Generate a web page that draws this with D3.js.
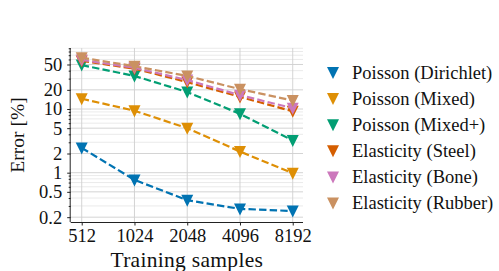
<!DOCTYPE html>
<html><head><meta charset="utf-8">
<script src="https://cdn.jsdelivr.net/npm/d3@7"></script>
<style>body{margin:0;background:#fff}svg{display:block}</style>
</head><body>
<script>
const samples = [512, 1024, 2048, 4096, 8192];
const seriesNames = ["Poisson (Dirichlet)", "Poisson (Mixed)", "Poisson (Mixed+)", "Elasticity (Steel)", "Elasticity (Bone)", "Elasticity (Rubber)"];
const dirichlet = [2.45, 0.77, 0.37, 0.27, 0.25];
const mixed = [14.5, 9.4, 5.0, 2.15, 0.98];
const mixedPlus = [49, 33, 18.5, 8.4, 3.2];
const steel = [57, 43, 26.5, 15.5, 9.2];
const bone = [59, 44.5, 28.5, 16.5, 10.3];
const rubber = [64, 47, 33, 20.5, 13.6];
const colors = ["#0173b2", "#de8f05", "#029e73", "#d55e00", "#cc78bc", "#ca9161"];
const yTickLabels = [0.2, 0.5, 1, 2, 5, 10, 20, 50];
const allSeries = [dirichlet, mixed, mixedPlus, steel, bone, rubber];

const W = 499, H = 271;
const svg = d3.select("body").append("svg").attr("width", W).attr("height", H);
const font = "'Liberation Serif', 'DejaVu Serif', serif";

const pL = 70.7, pR = 303, pT = 48, pB = 222;
const x = d3.scaleLog().base(2).domain([443, 9375]).range([pL, pR]);
const y = d3.scaleLog().domain([0.168, 90.8]).range([pB, pT]);

// grid
const minorVals = [];
for (const dec of [0.1, 1, 10]) for (let k = 1; k <= 9; k++) { const v = +(k * dec).toPrecision(3); if (v >= 0.168 && v <= 90.8) minorVals.push(v); }
const g = svg.append("g");
g.selectAll("line.hgrid").data(minorVals).join("line")
  .attr("x1", pL).attr("x2", pR)
  .attr("y1", d => y(d)).attr("y2", d => y(d))
  .attr("stroke", d => yTickLabels.includes(d) || d === 1 || d === 10 ? "#cfcfcf" : "#e8e8e8")
  .attr("stroke-width", 0.9);
g.selectAll("line.vgrid").data(samples).join("line")
  .attr("x1", d => x(d)).attr("x2", d => x(d))
  .attr("y1", pT).attr("y2", pB)
  .attr("stroke", "#cfcfcf").attr("stroke-width", 0.9);

// axes
const xAxis = d3.axisBottom(x).tickValues(samples).tickFormat(d3.format("d")).tickSize(3.5).tickPadding(3.5);
const xg = svg.append("g").attr("transform", `translate(0,${pB})`).call(xAxis);
xg.select(".domain").attr("d", `M${pL},0.5H${pR}`).attr("stroke", "#222");
xg.selectAll(".tick line").attr("stroke", "#222");
xg.selectAll("text").attr("font-family", font).attr("font-size", 18.5).attr("fill", "#111");

const yAxisMinor = d3.axisLeft(y).tickValues(minorVals.filter(v => !yTickLabels.includes(v))).tickFormat("").tickSize(2);
const ygm = svg.append("g").attr("transform", `translate(${pL},0)`).call(yAxisMinor);
ygm.select(".domain").remove();
ygm.selectAll(".tick line").attr("stroke", "#222");
const yAxis = d3.axisLeft(y).tickValues(yTickLabels).tickFormat(d => String(d)).tickSize(3.5).tickPadding(5);
const yg = svg.append("g").attr("transform", `translate(${pL},0)`).call(yAxis);
yg.select(".domain").attr("d", `M-0.5,${pT}V${pB}`).attr("stroke", "#222");
yg.selectAll(".tick line").attr("stroke", "#222");
yg.selectAll("text").attr("font-family", font).attr("font-size", 18.5).attr("fill", "#111");

// axis labels
svg.append("text").attr("x", (pL + pR) / 2 + 0).attr("y", 266.5).attr("text-anchor", "middle")
  .attr("font-family", font).attr("font-size", 21.5).attr("letter-spacing", 0.3).attr("fill", "#111").text("Training samples");
svg.append("text").attr("transform", `translate(24,${(pT + pB) / 2}) rotate(-90)`).attr("text-anchor", "middle")
  .attr("font-family", font).attr("font-size", 19.5).attr("fill", "#111").text("Error [%]");

// series
const line = d3.line().x((d, i) => x(samples[i])).y(d => y(d));
const tri = (cx, cy, s) => `M${cx - s / 2},${cy - s / 2 + 0.5}L${cx + s / 2},${cy - s / 2 + 0.5}L${cx},${cy + s / 2 + 0.5}Z`;
allSeries.forEach((vals, si) => {
  const sg = svg.append("g");
  sg.append("path").attr("d", line(vals)).attr("fill", "none").attr("stroke", colors[si])
    .attr("stroke-width", 2.2).attr("stroke-dasharray", "7.4,3.2");
  sg.selectAll("path.m").data(vals).join("path").attr("class", "m")
    .attr("d", (d, i) => tri(x(samples[i]), y(d), 12)).attr("fill", colors[si]);
});

// legend
const lg = svg.append("g");
seriesNames.forEach((name, i) => {
  const cy = 72.5 + i * 26.1;
  lg.append("path").attr("d", tri(333, cy, 12)).attr("fill", colors[i]);
  lg.append("text").attr("x", 352).attr("y", cy + 6).attr("font-family", font).attr("font-size", 18.5)
    .attr("fill", "#111").text(name);
});
</script>
</body></html>
